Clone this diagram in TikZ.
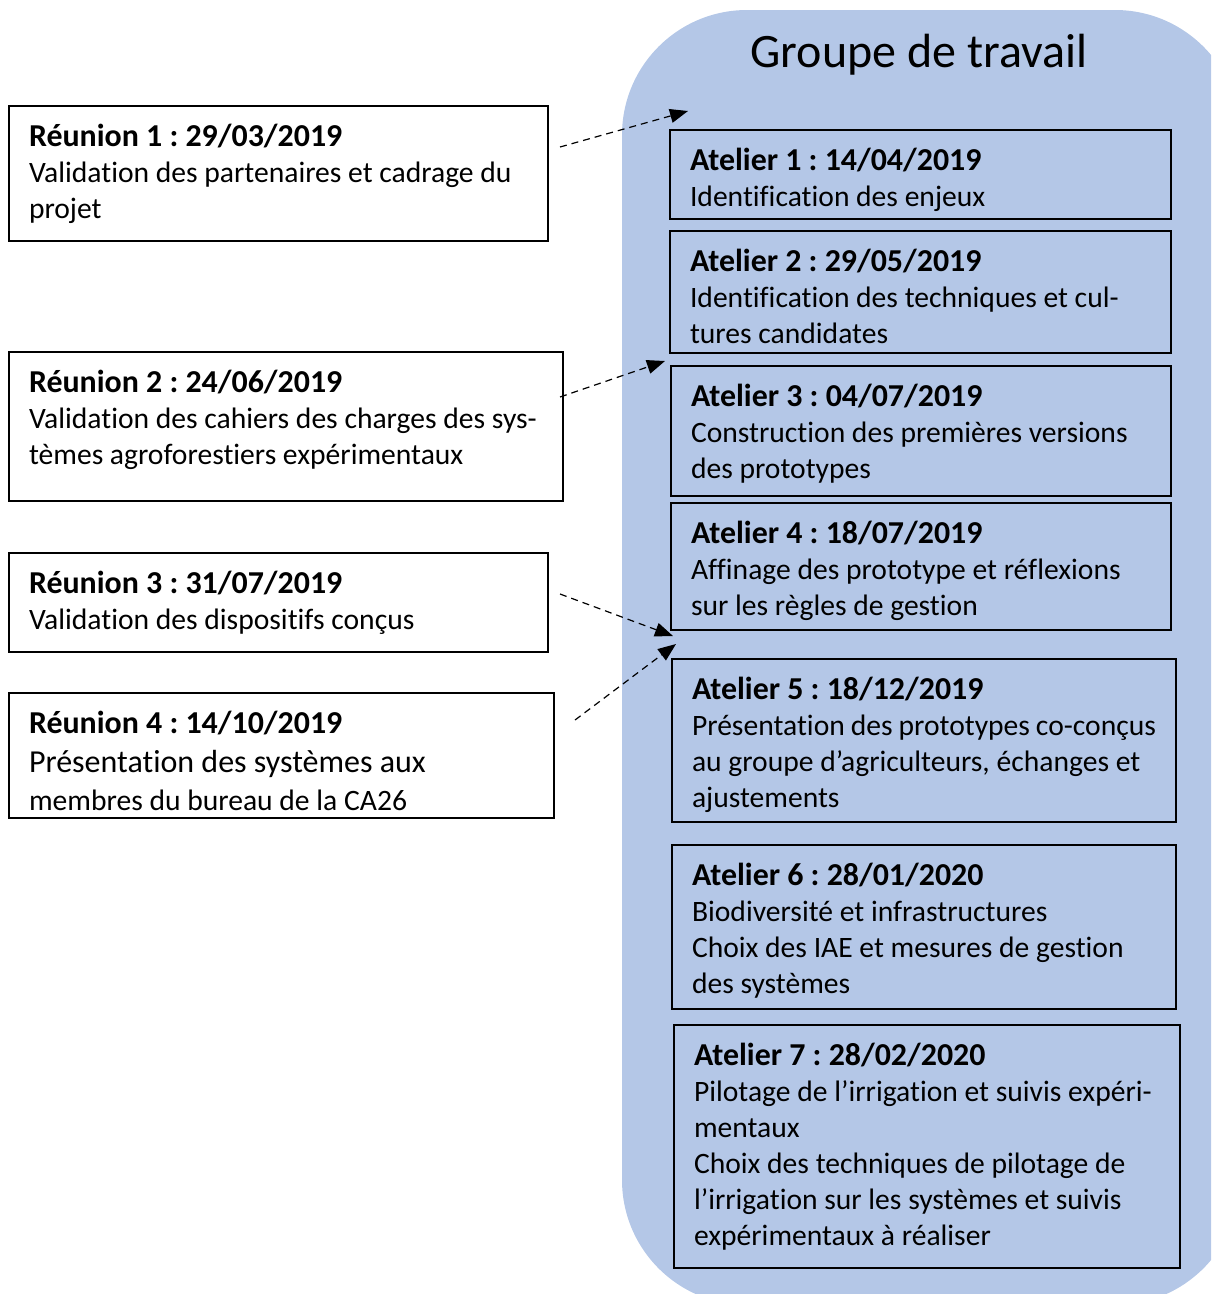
\documentclass[tikz,border=0pt]{standalone}
\usepackage{fontspec}
\setmainfont[Ligatures={NoCommon}]{Carlito}
\usetikzlibrary{arrows.meta}
\definecolor{grpblue}{HTML}{B4C7E7}
\tikzset{
  box/.style={draw=black, line width=1.6pt, rectangle, inner xsep=20pt, inner ysep=0pt, outer sep=0pt, anchor=north west,
    font=\fontsize{29.6}{36}\selectfont\frenchspacing},
  wbox/.style={box, fill=white},
  bbox/.style={box},
  dasharrow/.style={line width=1.2pt, dash pattern=on 7pt off 5pt, -{Triangle[length=18pt,width=14pt]}},
}
\newcommand{\ttl}[1]{{\fontsize{31.9}{36}\selectfont\bfseries #1}}
\newcommand{\mkbox}[7]{% style, name, x1, y1, x2, y2, text
  \pgfmathsetlengthmacro{\bw}{#5-#3-40}%
  \pgfmathsetlengthmacro{\bh}{#6-#4}%
  \node[#1] (#2) at (#3,#4)
    {\parbox[t][\bh][t]{\bw}{\raggedright\rule{0pt}{40pt}#7}};}
\begin{document}
\begin{tikzpicture}[x=1pt,y=-1pt]
\useasboundingbox (0,0) rectangle (1211,1294);
\begin{scope}
\clip (0,0) rectangle (1211,1294);
\fill[grpblue, rounded corners=125pt] (622,10) rectangle (1240,1305);
\end{scope}
\node[font=\fontsize{48}{54}\selectfont] (title) at (919,55) {Groupe de travail};
% Reunions
\mkbox{wbox}{r1}{9}{106}{548}{241}{\ttl{Réunion 1 : 29/03/2019}\\Validation des partenaires et cadrage du\\projet}
\mkbox{wbox}{r2}{9}{352}{563}{501}{\ttl{Réunion 2 : 24/06/2019}\\Validation des cahiers des charges des sys-\\tèmes agroforestiers expérimentaux}
\mkbox{wbox}{r3}{9}{553}{548}{652}{\ttl{Réunion 3 : 31/07/2019}\\Validation des dispositifs conçus}
\mkbox{wbox}{r4}{9}{693}{554}{818}{\ttl{Réunion 4 : 14/10/2019}\\[3pt]{\fontsize{32}{38}\selectfont Présentation des systèmes aux}\\[2pt]membres du bureau de la CA26}
% Ateliers
\mkbox{bbox}{a1}{670}{130}{1171}{219}{\ttl{Atelier 1 : 14/04/2019}\\Identification des enjeux}
\mkbox{bbox}{a2}{670}{231}{1171}{353}{\ttl{Atelier 2 : 29/05/2019}\\Identification des techniques et cul-\\tures candidates}
\mkbox{bbox}{a3}{671}{366}{1171}{496}{\ttl{Atelier 3 : 04/07/2019}\\Construction des premières versions\\des prototypes}
\mkbox{bbox}{a4}{671}{503}{1171}{630}{\ttl{Atelier 4 : 18/07/2019}\\Affinage des prototype et réflexions\\sur les règles de gestion}
\mkbox{bbox}{a5}{672}{659}{1176}{822}{\ttl{Atelier 5 : 18/12/2019}\\Présentation des prototypes co-conçus\\au groupe d’agriculteurs, échanges et\\ajustements}
\mkbox{bbox}{a6}{672}{845}{1176}{1009}{\ttl{Atelier 6 : 28/01/2020}\\Biodiversité et infrastructures\\Choix des IAE et mesures de gestion\\des systèmes}
\mkbox{bbox}{a7}{674}{1025}{1180}{1268}{\ttl{Atelier 7 : 28/02/2020}\\Pilotage de l’irrigation et suivis expéri-\\mentaux\\Choix des techniques de pilotage de\\l’irrigation sur les systèmes et suivis\\expérimentaux à réaliser}
% arrows
\coordinate (s1) at (560,147); \coordinate (e1) at (688,111);
\coordinate (s2) at (560,397); \coordinate (e2) at (665,361);
\coordinate (s3) at (560,594); \coordinate (e3) at (673,636);
\coordinate (s4) at (575,720); \coordinate (e4) at (676,644);
\draw[dasharrow] (s1) -- (e1);
\draw[dasharrow] (s2) -- (e2);
\draw[dasharrow] (s3) -- (e3);
\draw[dasharrow] (s4) -- (e4);
\end{tikzpicture}
\end{document}
